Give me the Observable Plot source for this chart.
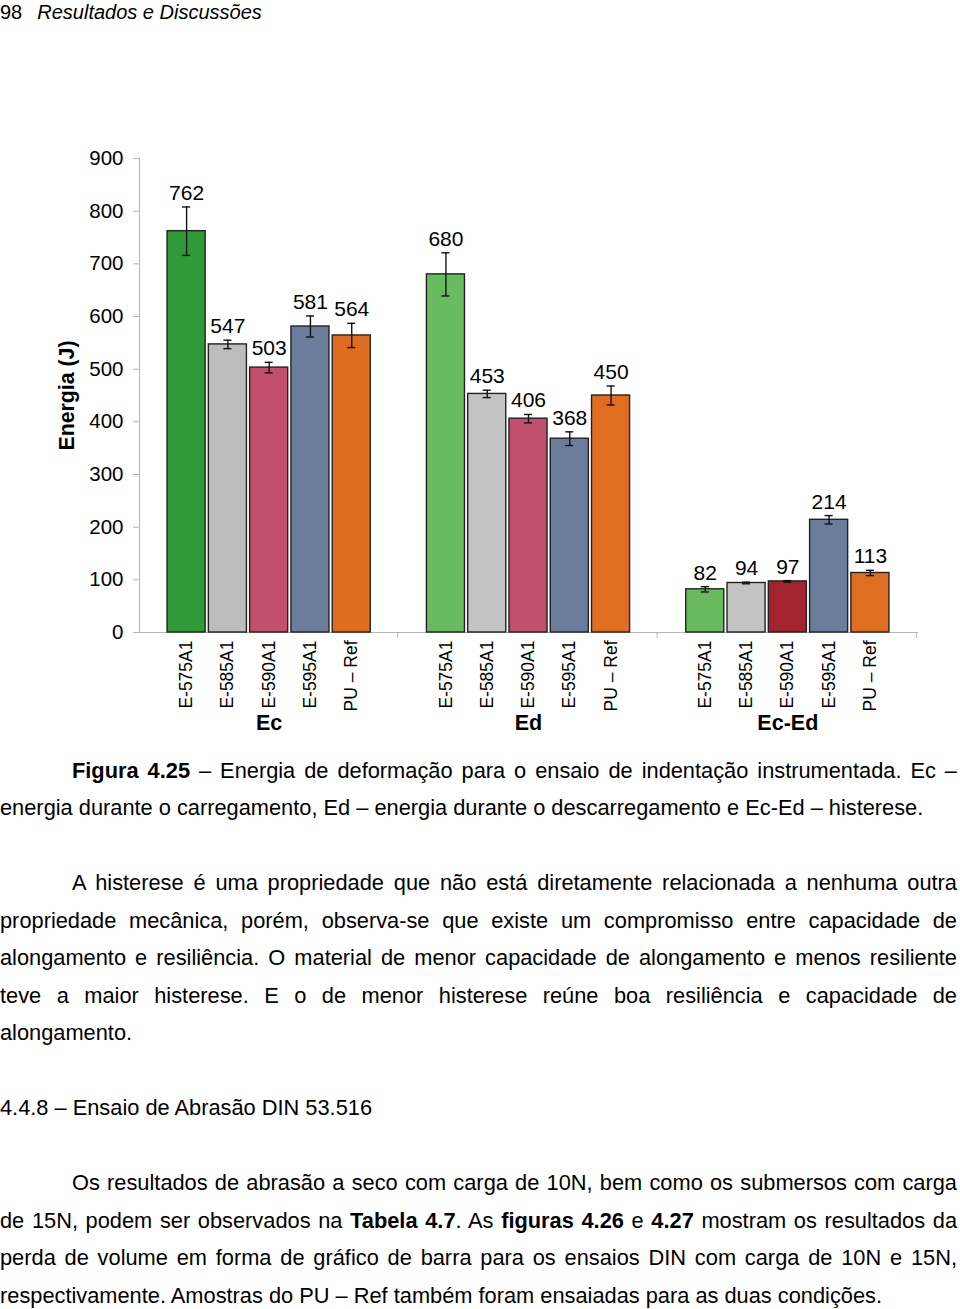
<!DOCTYPE html>
<html><head><meta charset="utf-8">
<script src="https://cdn.jsdelivr.net/npm/d3@7"></script>
<script src="https://cdn.jsdelivr.net/npm/@observablehq/plot@0.6"></script>
<style>
body{margin:0;background:#fff;font-family:"Liberation Sans",Arial,sans-serif;color:#000;}
#page{position:relative;width:960px;height:1309px;overflow:hidden;background:#fff;}
.ln{position:absolute;left:0;width:957px;font-size:21.8px;line-height:26px;white-space:nowrap;}
.ind{left:72px;width:885px;}
.j{text-align:justify;text-align-last:justify;white-space:normal;}
#chart{position:absolute;left:0;top:140px;}
#hdr{position:absolute;left:0;top:0;font-size:20px;line-height:24px;}
#hdr i{margin-left:15px;}
</style></head>
<body><div id="page">
<div id="hdr">98<i>Resultados e Discussões</i></div>
<div id="chart"></div>
<div class="ln ind j" style="top:758px"><b>Figura 4.25</b> – Energia de deformação para o ensaio de indentação instrumentada. Ec –</div>
<div class="ln" style="top:795px">energia durante o carregamento, Ed – energia durante o descarregamento e Ec-Ed – histerese.</div>
<div class="ln ind j" style="top:870px">A histerese é uma propriedade que não está diretamente relacionada a nenhuma outra</div>
<div class="ln j" style="top:908px">propriedade mecânica, porém, observa-se que existe um compromisso entre capacidade de</div>
<div class="ln j" style="top:945px">alongamento e resiliência. O material de menor capacidade de alongamento e menos resiliente</div>
<div class="ln j" style="top:983px">teve a maior histerese. E o de menor histerese reúne boa resiliência e capacidade de</div>
<div class="ln" style="top:1020px">alongamento.</div>
<div class="ln" style="top:1095px">4.4.8 – Ensaio de Abrasão DIN 53.516</div>
<div class="ln ind j" style="top:1170px">Os resultados de abrasão a seco com carga de 10N, bem como os submersos com carga</div>
<div class="ln j" style="top:1208px">de 15N, podem ser observados na <b>Tabela 4.7</b>. As <b>figuras 4.26</b> e <b>4.27</b> mostram os resultados da</div>
<div class="ln j" style="top:1245px">perda de volume em forma de gráfico de barra para os ensaios DIN com carga de 10N e 15N,</div>
<div class="ln" style="top:1283px">respectivamente. Amostras do PU – Ref também foram ensaiadas para as duas condições.</div>
</div>
<script>
const groups = ["Ec", "Ed", "Ec-Ed"];
const samples = ["E-575A1", "E-585A1", "E-590A1", "E-595A1", "PU – Ref"];
const ecValues = [762, 547, 503, 581, 564];
const ecErrors = [46, 8, 10, 20, 23];
const edValues = [680, 453, 406, 368, 450];
const edErrors = [41, 7, 8, 13, 18];
const hystValues = [82, 94, 97, 214, 113];
const hystErrors = [5, 1.5, 1.5, 8, 5];
const yTicks = [0, 100, 200, 300, 400, 500, 600, 700, 800, 900];
const yLabel = "Energia (J)";

const groupColors = [
  ["#2f9a37", "#bdbdbd", "#c24f6b", "#6a7e9c", "#df6c1f"],
  ["#68bc5f", "#c4c4c4", "#c24f6b", "#6a7e9c", "#e06e20"],
  ["#68bc5f", "#c4c4c4", "#a32330", "#6a7e9c", "#e06e20"]
];
const valueSets = [ecValues, edValues, hystValues];
const errorSets = [ecErrors, edErrors, hystErrors];

const rows = [];
groups.forEach((g, gi) => samples.forEach((s, si) => rows.push({
  group: g, sample: s, value: valueSets[gi][si], err: errorSets[gi][si], color: groupColors[gi][si]
})));

const chart = Plot.plot({
  width: 960, height: 600,
  marginLeft: 139, marginRight: 43, marginTop: 18, marginBottom: 108,
  style: {fontFamily: "Liberation Sans, Arial, sans-serif", fontSize: "20px", color: "#000", background: "transparent", overflow: "visible"},
  fx: {domain: groups, paddingInner: 0, paddingOuter: 0, round: false, label: null},
  x: {domain: samples, paddingInner: 0.078, paddingOuter: 0.68, round: false, label: null},
  y: {domain: [0, 900], label: null},
  marks: [
    Plot.frame({anchor: "left", facet: "super", stroke: "#b5b5b5"}),
    Plot.frame({anchor: "bottom", facet: "super", stroke: "#b5b5b5"}),
    Plot.ruleX(rows.filter(d => d.sample === samples[4]), {fx: "group", x: "sample", dx: 46, y1: 0, y2: -11, stroke: "#b5b5b5"}),
    Plot.axisY({ticks: yTicks, tickSize: 6, tickPadding: 10, stroke: "#b5b5b5", fill: "#000", fontSize: 20.5, label: null}),
    Plot.text([yLabel], {frameAnchor: "left", textAnchor: "middle", dx: -72, rotate: -90, fontWeight: "bold", fontSize: 21.3, facet: "super", fill: "#000"}),
    Plot.axisX({anchor: "bottom", tickRotate: -90, tickSize: 0, tickPadding: 8, fontSize: 17.5, label: null, fill: "#000"}),
    Plot.axisFx({anchor: "bottom", tickSize: 0, tickPadding: 82, fontSize: 21.5, fontWeight: "bold", label: null, fill: "#000"}),
    Plot.barY(rows, {fx: "group", x: "sample", y: "value", fill: "color", stroke: "#222", strokeWidth: 1.4}),
    Plot.ruleX(rows, {fx: "group", x: "sample", y1: d => d.value - d.err, y2: d => d.value + d.err, stroke: "#111", strokeWidth: 1.4}),
    Plot.tickY(rows, {fx: "group", x: "sample", y: d => d.value + d.err, insetLeft: 15, insetRight: 15, stroke: "#111", strokeWidth: 1.4}),
    Plot.tickY(rows, {fx: "group", x: "sample", y: d => d.value - d.err, insetLeft: 15, insetRight: 15, stroke: "#111", strokeWidth: 1.4}),
    Plot.text(rows, {fx: "group", x: "sample", y: d => d.value + d.err, text: d => String(d.value), dy: -7, lineAnchor: "bottom", fontSize: 21, fill: "#000"})
  ]
});
document.getElementById("chart").appendChild(chart);
</script>
</body></html>
